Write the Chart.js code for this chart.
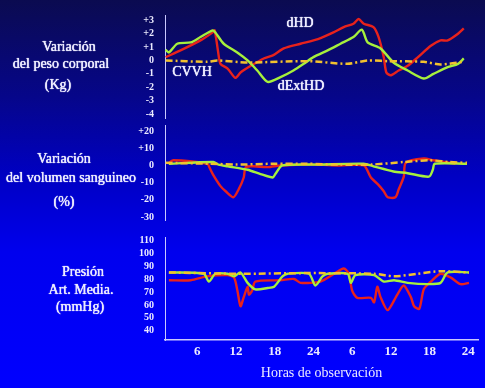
<!DOCTYPE html>
<html>
<head>
<meta charset="utf-8">
<script src="https://cdn.jsdelivr.net/npm/chart.js@4"></script>
<style>
html, body { margin: 0; padding: 0; }
body {
  width: 485px; height: 388px; overflow: hidden; position: relative;
  background: linear-gradient(to bottom, #0b0b50 0%, #06068a 25%, #0000c2 45%, #0000ee 65%, #0000ff 100%);
  font-family: "Liberation Serif", "DejaVu Serif", serif;
  color: #ecebff;
}
canvas { position: absolute; left: 0; }
.lbl { position: absolute; font-size: 14px; white-space: nowrap; transform: translate(-50%, -50%); text-align: center; text-shadow: 0 0 0.8px #ecebff, 0 0 0.8px #ecebff; }
</style>
</head>
<body>
<canvas id="peso" width="485" height="125" style="top:0"></canvas>
<canvas id="volumen" width="485" height="110" style="top:120px"></canvas>
<canvas id="presion" width="485" height="158" style="top:230px"></canvas>

<div class="lbl" style="left:69px;top:47px">Variación</div>
<div class="lbl" style="left:61px;top:64px">del peso corporal</div>
<div class="lbl" style="left:58px;top:85px">(Kg)</div>

<div class="lbl" style="left:64px;top:159px">Variación</div>
<div class="lbl" style="left:71px;top:178px">del volumen sanguineo</div>
<div class="lbl" style="left:64px;top:202px">(%)</div>

<div class="lbl" style="left:83px;top:272px">Presión</div>
<div class="lbl" style="left:81px;top:290px">Art. Media.</div>
<div class="lbl" style="left:80px;top:307px">(mmHg)</div>

<div class="lbl" style="left:300px;top:23px">dHD</div>
<div class="lbl" style="left:192px;top:72px">CVVH</div>
<div class="lbl" style="left:301px;top:86px">dExtHD</div>

<script>
// x axis: hours of observation over two days
var horasTicks = [6, 12, 18, 24, 30, 36, 42, 48];
var horasLabels = ['6', '12', '18', '24', '6', '12', '18', '24'];

// Variación del peso corporal (Kg)
var pesoTicks = [3, 2, 1, 0, -1, -2, -3, -4];
var pesoHorasDHD = [1.1, 3.4, 6.5, 8.4, 8.7, 9.2, 9.6, 10.7, 11.9, 12.7, 14.3, 16.3, 17.8, 19.4, 22.0, 24.7, 27.1, 28.7, 30.2, 31.0, 31.8, 33.3, 34.1, 34.9, 35.3, 36.0, 37.2, 38.6, 40.2, 42.2, 43.7, 44.8, 46.4, 47.3];
var pesoDHD = [0.25, 0.75, 1.5, 2.1, 2.25, 0.75, -0.25, -0.6, -1.3, -0.9, -0.4, 0.15, 0.4, 0.9, 1.25, 1.6, 2.1, 2.5, 2.75, 3.1, 2.75, 2.5, 1.75, 0.25, -0.9, -1.1, -0.75, -0.4, 0.25, 1.1, 1.5, 1.5, 2.0, 2.4];
var pesoHorasDExt = [1.1, 1.6, 2.9, 5.0, 6.5, 8.4, 8.8, 10.1, 12.2, 13.8, 15.3, 16.9, 18.9, 20.9, 22.5, 24.0, 26.2, 28.2, 30.2, 31.5, 32.4, 34.4, 36.4, 38.6, 41.1, 42.6, 44.8, 46.4, 47.3];
var pesoDExtHD = [0.8, 0.6, 1.25, 1.35, 1.75, 2.25, 2.1, 1.25, 0.6, 0, -0.75, -1.6, -1.25, -0.75, -0.25, 0.25, 0.75, 1.25, 1.75, 2.3, 1.35, 0.9, -0.15, -0.75, -1.35, -1.0, -0.5, -0.25, 0.15];
var pesoHorasCVVH = [1.1, 7.5, 9.1, 13.8, 23.1, 29.3, 32.4, 35.5, 41.1, 43.7, 47.1];
var pesoCVVH = [0, -0.1, 0, -0.15, -0.05, -0.25, 0, -0.05, -0.1, -0.3, -0.1];

// Variación del volumen sanguineo (%)
var volumenTicks = [20, 10, 0, -10, -20, -30];
var volumenHorasDHD = [1.6, 2.3, 7.6, 7.8, 8.4, 9.6, 10.4, 11.6, 12.4, 13.2, 13.5, 14.7, 16.9, 18.9, 24.0, 28.0, 31.8, 32.9, 34.0, 34.9, 35.5, 36.7, 37.2, 38.0, 38.3, 41.1, 42.6, 46.0];
var volumenDHD = [1.5, 3, 1, -0.5, -5, -12, -15, -18.5, -14, -7, -1, -0.5, -1, 0, 0.5, 0, 0, -7, -11, -15, -18.5, -18.5, -14, -6.5, 1.5, 4, 3, 1];
var volumenHorasDExt = [1.6, 8.5, 9.3, 10.7, 13.8, 15.8, 17.7, 18.1, 19.2, 25.0, 31.8, 33.3, 36.4, 38.6, 41.9, 42.5, 42.8, 47.8];
var volumenDExtHD = [1, 2, 0.5, -0.5, -2.5, -5, -7, -5, 0, 0.5, 1, -0.5, -3.5, -4.5, -6.5, -2.5, 1, 1];
var volumenHorasCVVH = [1.1, 8.0, 12.0, 18.0, 23.0, 28.0, 33.0, 38.0, 42.0, 45.0, 47.8];
var volumenCVVH = [1.5, 1, 0.5, 1, 1, 0.5, 0.5, 2, 3, 2, 1.5];

// Presión Art. Media (mmHg)
var presionTicks = [110, 100, 90, 80, 70, 60, 50, 40];
var presionHorasDHD = [1.6, 5.0, 7.5, 10.7, 11.7, 12.2, 12.7, 13.2, 13.8, 14.0, 14.5, 15.0, 18.9, 21.0, 22.0, 25.1, 27.2, 28.7, 29.5, 30.0, 30.8, 32.9, 33.4, 33.9, 34.4, 35.5, 37.0, 38.0, 39.1, 39.6, 40.4, 41.1, 42.2, 43.7, 45.3, 46.8, 48.1];
var presionDHD = [79, 79, 82, 83, 81, 71.5, 59, 66, 74, 68, 71, 78, 79, 80, 77, 78, 84, 88, 84, 71, 65.5, 65.5, 62, 74, 66, 56, 68, 75, 66, 59, 57, 72, 78, 84, 81, 76, 77];
var presionHorasDExt = [1.6, 7.0, 7.8, 8.8, 10.7, 11.7, 12.7, 13.8, 15.0, 16.9, 17.9, 19.2, 20.0, 23.3, 24.3, 25.4, 26.2, 29.3, 29.8, 30.5, 33.4, 34.9, 36.5, 38.6, 41.7, 43.7, 44.8, 48.1];
var presionDExtHD = [85, 84, 78, 84, 84, 82, 85, 77, 72, 73, 74, 82, 84, 84, 75, 82, 84, 84, 77, 83, 83, 78, 79, 77, 76, 77, 85, 85];
var presionHorasCVVH = [1.6, 12.7, 23.1, 33.4, 36.5, 40.1, 43.7, 48.1];
var presionCVVH = [85, 84, 84.5, 84, 82, 84, 86, 85];

var textColor = '#ecebff';
var axisColor = '#c9c8ff';
var rojo = '#e8221c';
var verde = '#a6f03c';
var amarillo = '#f2c12e';

function puntos(horas, valores) {
  return horas.map(function(h, i) { return { x: h, y: valores[i] }; });
}

function series(hDHD, vDHD, hExt, vExt, hCVVH, vCVVH) {
  return [
    { label: 'CVVH', data: puntos(hCVVH, vCVVH), borderColor: amarillo, borderDash: [7, 3, 2, 3], borderWidth: 2.5 },
    { label: 'dExtHD', data: puntos(hExt, vExt), borderColor: verde },
    { label: 'dHD', data: puntos(hDHD, vDHD), borderColor: rojo }
  ];
}

function panel(id, datasets, yTicks, yMin, yMax, plus, pad, showX) {
  return new Chart(document.getElementById(id), {
    type: 'line',
    data: { datasets: datasets },
    options: {
      animation: false,
      responsive: false,
      layout: { padding: pad },
      plugins: { legend: { display: false }, tooltip: { enabled: false } },
      elements: {
        point: { radius: 0 },
        line: { borderWidth: 2.4, tension: 0.25, fill: false }
      },
      scales: {
        x: {
          type: 'linear',
          min: 1,
          max: 49.5,
          display: showX,
          afterFit: function(s) {
            if (showX) s.height = 48;
            s.paddingLeft = 0;
            s.paddingRight = 0;
          },
          afterBuildTicks: function(s) {
            s.ticks = horasTicks.map(function(v) { return { value: v }; });
          },
          grid: { display: false, drawTicks: false },
          border: { display: true, color: axisColor, width: 1.5 },
          ticks: {
            color: textColor,
            padding: 4,
            maxRotation: 0,
            autoSkip: false,
            font: { family: 'Liberation Serif', size: 13, weight: 'bold' },
            callback: function(v, i) { return horasLabels[i]; }
          },
          title: {
            display: true,
            text: 'Horas de observación',
            color: textColor,
            padding: { top: 0, bottom: 6 },
            font: { family: 'Liberation Serif', size: 14 }
          }
        },
        y: {
          min: yMin,
          max: yMax,
          afterFit: function(s) {
            s.width = 165;
            // keep the plot box where the layout padding puts it
            s.paddingTop = 0;
            s.paddingBottom = 0;
          },
          afterBuildTicks: function(s) {
            s.ticks = yTicks.map(function(v) { return { value: v }; });
          },
          grid: { display: false, drawTicks: false },
          border: { display: true, color: axisColor, width: 1 },
          ticks: {
            color: textColor,
            padding: 11,
            autoSkip: false,
            font: { family: 'Liberation Serif', size: 10, weight: 'bold' },
            callback: function(v) { return (plus && v > 0 ? '+' : '') + v; }
          }
        }
      }
    }
  });
}

panel('peso',
  series(pesoHorasDHD, pesoDHD, pesoHorasDExt, pesoDExtHD, pesoHorasCVVH, pesoCVVH),
  pesoTicks, -4.3, 3.4, true, { top: 15, bottom: 7, left: 0, right: 7 }, false);

panel('volumen',
  series(volumenHorasDHD, volumenDHD, volumenHorasDExt, volumenDExtHD, volumenHorasCVVH, volumenCVVH),
  volumenTicks, -31.7, 23.5, true, { top: 5, bottom: 10, left: 0, right: 7 }, false);

panel('presion',
  series(presionHorasDHD, presionDHD, presionHorasDExt, presionDExtHD, presionHorasCVVH, presionCVVH),
  presionTicks, 33, 112.3, false, { top: 7, bottom: 0, left: 0, right: 7 }, true);
</script>
</body>
</html>
